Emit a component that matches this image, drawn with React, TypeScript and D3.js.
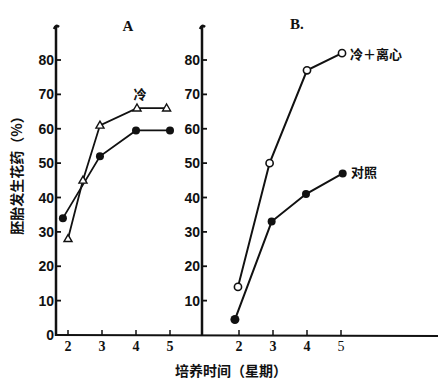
import React from "react";
import * as d3 from "d3";

// Panel A
const aColdWeeks = [2.0, 2.44, 2.94, 4.03, 4.9];
const aColdValues = [28, 45, 61, 66, 66];
const aCtrlWeeks = [1.85, 2.94, 4.0, 5.0];
const aCtrlValues = [34, 52, 59.5, 59.5];
// Panel B
const bColdCentWeeks = [1.97, 2.9, 4.0, 5.03];
const bColdCentValues = [14, 50, 77, 82];
const bCtrlWeeks = [1.88, 2.96, 3.97, 5.05];
const bCtrlValues = [4.5, 33, 41, 47];

const yTicks = [0, 10, 20, 30, 40, 50, 60, 70, 80];
const xTicks = [2, 3, 4, 5];

const W = 442;
const H = 384;

export default function App() {
  const y = d3.scaleLinear().domain([0, 80]).range([335, 60]);
  const xA = d3.scaleLinear().domain([2, 5]).range([68, 170]);
  const xB = d3.scaleLinear().domain([2, 5]).range([239, 341]);

  const lineGen = (xs: number[], vs: number[], xs_: d3.ScaleLinear<number, number>) =>
    d3.line<number>().x((_, i) => xs_(xs[i])).y((v) => y(v))(vs) || "";

  const tri = d3.symbol().type(d3.symbolTriangle).size(28)() || "";

  const axisAx = 56;
  const axisBx = 202;
  const topY = 27;
  const baseY = y(0);

  const numFont = "'Liberation Sans', Arial, sans-serif";
  const serif = "'Liberation Serif', 'DejaVu Serif', serif";
  const cjk = "'Noto Sans CJK SC', sans-serif";

  return (
    <svg width={W} height={H} style={{ position: "absolute", left: 0, top: 0, background: "#fff" }}>
      <rect width={W} height={H} fill="#fff" />
      {/* axes */}
      <path d={`M${axisAx - 2},${topY + 2} Q${axisAx},${topY - 3} ${axisAx + 3},${topY}`} stroke="#111" strokeWidth={2.5} fill="none" />
      <line x1={axisAx} y1={topY} x2={axisAx} y2={baseY + 1} stroke="#111" strokeWidth={2.5} />
      <path d={`M${axisBx - 2},${topY + 2} Q${axisBx},${topY - 3} ${axisBx + 3},${topY}`} stroke="#111" strokeWidth={2.5} fill="none" />
      <line x1={axisBx} y1={topY} x2={axisBx} y2={baseY + 1} stroke="#111" strokeWidth={2.5} />
      <line x1={axisAx} y1={baseY} x2={438} y2={baseY + 1} stroke="#111" strokeWidth={2} />

      {/* y ticks */}
      {yTicks.map((t) => (
        <g key={"ya" + t}>
          <line x1={axisAx} x2={axisAx + 5} y1={y(t)} y2={y(t)} stroke="#111" strokeWidth={1.8} />
          <text x={axisAx - 2} y={y(t) + 5} textAnchor="end" fontFamily={numFont} fontWeight="bold" fontSize={14} fill="#111">{t}</text>
          {t > 0 && <line x1={axisBx} x2={axisBx + 5} y1={y(t)} y2={y(t)} stroke="#111" strokeWidth={1.8} />}
          {t > 0 && <text x={axisBx - 2} y={y(t) + 5} textAnchor="end" fontFamily={numFont} fontWeight="bold" fontSize={14} fill="#111">{t}</text>}
        </g>
      ))}

      {/* x ticks */}
      {xTicks.map((t) => (
        <g key={"xa" + t}>
          <line x1={xA(t)} x2={xA(t)} y1={baseY} y2={baseY - 5} stroke="#111" strokeWidth={1.5} />
          <text x={xA(t)} y={baseY + 16} textAnchor="middle" fontFamily={serif} fontWeight="bold" fontSize={14} fill="#111">{t}</text>
          <line x1={xB(t)} x2={xB(t)} y1={baseY} y2={baseY - 5} stroke="#111" strokeWidth={1.5} />
          <text x={xB(t)} y={baseY + 16} textAnchor="middle" fontFamily={serif} fontWeight={t === 5 ? "normal" : "bold"} fontSize={14} fill="#111">{t}</text>
        </g>
      ))}

      {/* Panel A lines */}
      <path d={lineGen(aCtrlWeeks, aCtrlValues, xA)} stroke="#111" strokeWidth={1.8} fill="none" />
      <path d={lineGen(aColdWeeks, aColdValues, xA)} stroke="#111" strokeWidth={1.8} fill="none" />
      {aCtrlValues.map((v, i) => (
        <circle key={"ac" + i} cx={xA(aCtrlWeeks[i])} cy={y(v)} r={4} fill="#111" />
      ))}
      {aColdValues.map((v, i) => (
        <path key={"at" + i} d={tri} transform={`translate(${xA(aColdWeeks[i])},${y(v) + 0.5})`} fill="#fff" stroke="#111" strokeWidth={1.4} />
      ))}

      {/* Panel B lines */}
      <path d={lineGen(bColdCentWeeks, bColdCentValues, xB)} stroke="#111" strokeWidth={2} fill="none" />
      <path d={lineGen(bCtrlWeeks, bCtrlValues, xB)} stroke="#111" strokeWidth={2} fill="none" />
      {bCtrlValues.map((v, i) => (
        <circle key={"bc" + i} cx={xB(bCtrlWeeks[i])} cy={y(v)} r={i === 0 ? 4.5 : 4} fill="#111" />
      ))}
      {bColdCentValues.map((v, i) => (
        <circle key={"bo" + i} cx={xB(bColdCentWeeks[i])} cy={y(v)} r={3.6} fill="#fff" stroke="#111" strokeWidth={1.6} />
      ))}

      {/* Labels */}
      <text x={128} y={31} textAnchor="middle" fontFamily={serif} fontWeight="bold" fontSize={15} fill="#111">A</text>
      <text x={297} y={29} textAnchor="middle" fontFamily={serif} fontWeight="bold" fontSize={15} fill="#111">B.</text>
      <text x={140} y={99} textAnchor="middle" fontFamily={cjk} fontWeight="bold" fontSize={13} fill="#111">冷</text>
      <text x={350} y={59} fontFamily={cjk} fontWeight="bold" fontSize={13} fill="#111">冷＋离心</text>
      <text x={351} y={177} fontFamily={cjk} fontWeight="bold" fontSize={13} fill="#111">对照</text>

      <text transform="translate(22,172) rotate(-90)" textAnchor="middle" fontFamily={cjk} fontWeight="bold" fontSize={14} fill="#111">胚胎发生花药（%）</text>
      <text x={231} y={376} textAnchor="middle" fontFamily={cjk} fontWeight="bold" fontSize={14} fill="#111">培养时间（星期）</text>
    </svg>
  );
}
